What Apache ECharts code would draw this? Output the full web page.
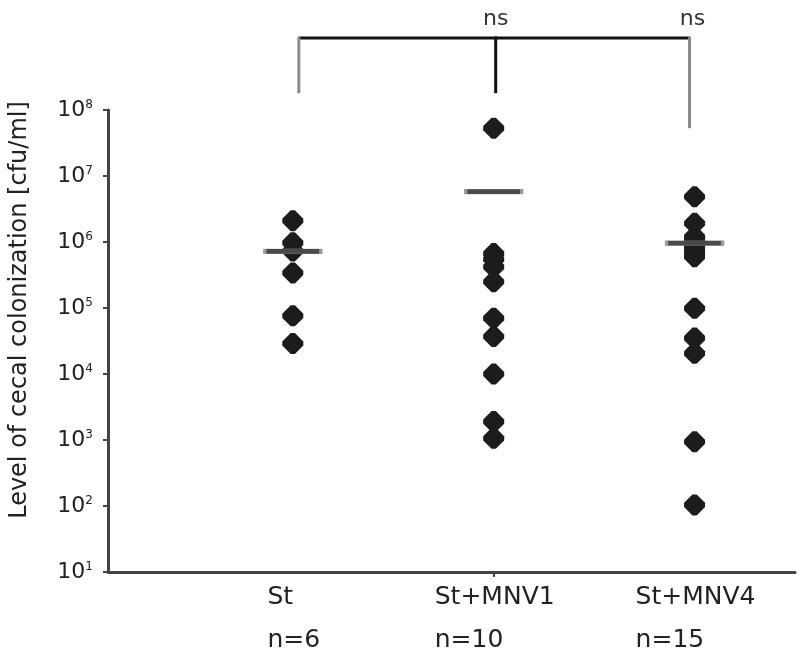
<!DOCTYPE html>
<html>
<head>
<meta charset="utf-8">
<script src="https://cdn.jsdelivr.net/npm/echarts@6/dist/echarts.min.js"></script>
<style>
html,body{margin:0;padding:0;background:#fff;}
#chart{width:800px;height:664px;}
</style>
</head>
<body>
<div id="chart"></div>
<script>
// ---- data ----
const categories = ['St', 'St+MNV1', 'St+MNV4'];
const groupSizes = ['n=6', 'n=10', 'n=15'];
const stValues = [2.1e6, 9.7e5, 7.3e5, 3.4e5, 7.6e4, 2.9e4];
const mnv1Values = [5.3e7, 6.7e5, 5.5e5, 4.2e5, 2.5e5, 7.0e4, 3.7e4, 1.0e4, 1.9e3, 1.06e3];
const mnv4Values = [4.85e6, 1.92e6, 1.2e6, 1.1e6, 1.0e6, 1.0e6, 9.0e5, 8.0e5, 7.0e5, 6.0e5, 9.9e4, 3.5e4, 2.06e4, 9.4e2, 1.04e2];
const meanValues = [7.2e5, 5.8e6, 9.6e5];
const yTickExponents = [1, 2, 3, 4, 5, 6, 7, 8];
const yTitle = 'Level of cecal colonization [cfu/ml]';
// significance bracket (x in group units, y in cfu/ml)
const bracketX = [1.03, 2.01, 2.975];
const bracketTop = 1.23e9;
const bracketLegBottoms = [1.8e8, 1.8e8, 5.3e7];
const sigLabels = [{ x: 2.01, text: 'ns' }, { x: 2.99, text: 'ns' }];
const sigLabelY = 2.4e9;

const FONT = 'DejaVu Sans';
const chart = echarts.init(document.getElementById('chart'), null, { renderer: 'canvas' });

const groups = [stValues, mnv1Values, mnv4Values];
const diamond = 'path://M0.4,0 L0.6,0 L1,0.4 L1,0.6 L0.6,1 L0.4,1 L0,0.6 L0,0.4 Z';

const series = groups.map((vals, gi) => ({
  type: 'scatter',
  data: vals.map(v => [gi + 1, v]),
  symbol: diamond,
  symbolSize: 21,
  itemStyle: { color: '#1c1c1c', opacity: 1 },
  emphasis: { disabled: true },
  z: 2
}));
series.push({
  type: 'scatter',
  data: meanValues.map((v, gi) => [gi + 1, v]),
  symbol: 'rect',
  symbolSize: [56, 5],
  itemStyle: { color: '#4a4a4a', borderColor: '#9a9a9a', borderWidth: 1, opacity: 1 },
  emphasis: { disabled: true },
  z: 3
});

chart.setOption({
  animation: false,
  backgroundColor: '#fff',
  grid: { left: 105, right: 5, top: 110, bottom: 92, containLabel: false },
  xAxis: {
    type: 'value',
    min: 0.08,
    max: 3.5,
    splitLine: { show: false },
    axisLine: { show: true, onZero: false, lineStyle: { color: '#444', width: 3 } },
    axisTick: { show: true, customValues: [2], length: 5, lineStyle: { color: '#444', width: 2 } },
    axisLabel: {
      customValues: [1, 2, 3],
      margin: 4,
      formatter: v => {
        const i = Math.round(v) - 1;
        return '{a|' + categories[i] + '}\n{a|' + groupSizes[i] + '}';
      },
      rich: {
        a: { align: 'left', fontFamily: FONT, fontSize: 25, lineHeight: 43, color: '#222', padding: [0, 0, 0, 2] }
      }
    }
  },
  yAxis: {
    type: 'log',
    logBase: 10,
    min: 10,
    max: 1e8,
    splitNumber: 7,
    splitLine: { show: false },
    axisLine: { show: true, lineStyle: { color: '#444', width: 3 } },
    axisTick: { show: true, length: 5, lineStyle: { color: '#444', width: 2 } },
    axisLabel: {
      margin: 15,
      formatter: v => {
        const e = Math.round(Math.log10(v));
        const idx = yTickExponents.indexOf(e);
        return idx < 0 ? '' : '{b|10}{s|' + yTickExponents[idx] + '}';
      },
      rich: {
        b: { fontFamily: FONT, fontSize: 22, color: '#222' },
        s: { fontFamily: FONT, fontSize: 12, color: '#222', padding: [0, 0, 10, 0] }
      }
    },
    name: yTitle,
    nameLocation: 'middle',
    nameGap: 76,
    nameTextStyle: { fontFamily: FONT, fontSize: 24, color: '#222', padding: [0, 0, 0, 62] }
  },
  series: series
});

function px(x, y) { return chart.convertToPixel({ gridIndex: 0 }, [x, y]); }
const g = [];
const top0 = px(bracketX[0], bracketTop);
const top2 = px(bracketX[2], bracketTop);
g.push({ type: 'line', shape: { x1: top0[0], y1: top0[1], x2: top2[0], y2: top2[1] }, style: { stroke: '#111', lineWidth: 3 } });
const legColors = ['#8a8a8a', '#111', '#8a8a8a'];
bracketX.forEach((bx, i) => {
  const a = px(bx, bracketTop);
  const b = px(bx, bracketLegBottoms[i]);
  g.push({ type: 'line', shape: { x1: a[0], y1: a[1] - 1.5, x2: b[0], y2: b[1] }, style: { stroke: legColors[i], lineWidth: 3 } });
});
sigLabels.forEach(s => {
  const p = px(s.x, sigLabelY);
  g.push({ type: 'text', x: p[0], y: p[1], style: { text: s.text, fontFamily: FONT, fontSize: 22, fill: '#333', align: 'center', verticalAlign: 'middle' } });
});
chart.setOption({ graphic: g });
</script>
</body>
</html>
